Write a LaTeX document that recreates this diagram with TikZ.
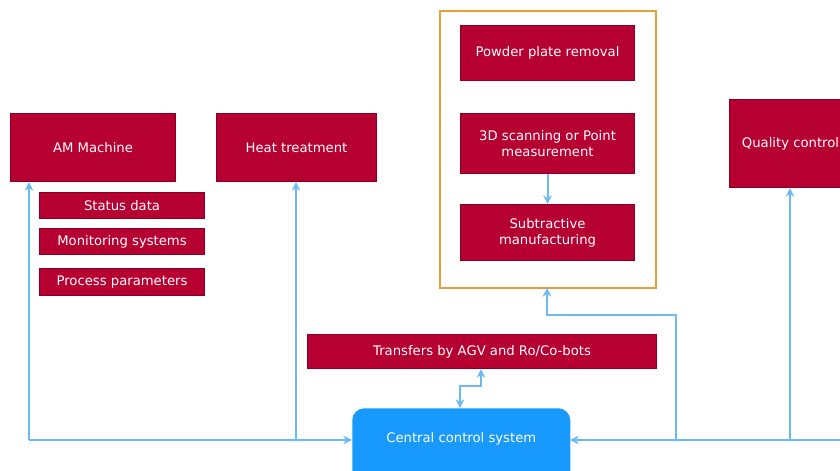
\documentclass[tikz,border=0pt]{standalone}
\usepackage{fontspec}
\setmainfont{DejaVu Sans}
\usetikzlibrary{arrows.meta}
\definecolor{boxred}{HTML}{B70032}
\definecolor{boxedge}{HTML}{8A0025}
\definecolor{ctrlblue}{HTML}{1799FD}
\definecolor{linkblue}{HTML}{6CBAF3}
\definecolor{frameorange}{HTML}{E5A03A}
\begin{document}
\begin{tikzpicture}[x=0.75pt,y=-0.75pt,
  redbox/.style={draw=boxedge,line width=0.8pt,fill=boxred,text=white,align=center,font=\fontsize{9.9}{12}\selectfont,inner sep=0pt},
  link/.style={draw=linkblue,line width=1.5pt,-{Stealth[length=6.5pt,width=6.5pt]}},
  plain/.style={draw=linkblue,line width=1.5pt}]
\useasboundingbox (0,0) rectangle (840,471);
% orange frame
\draw[frameorange,line width=1.2pt] (440,11) rectangle (656,288);
\coordinate (frameS) at (547,288);
% red boxes
\node[redbox,minimum width=165*0.75pt,minimum height=68*0.75pt,anchor=north west] (am) at (10,113) {AM Machine};
\node[redbox,minimum width=160*0.75pt,minimum height=68*0.75pt,anchor=north west] (heat) at (216,113) {Heat treatment};
\node[redbox,minimum width=165*0.75pt,minimum height=26*0.75pt,anchor=north west] (status) at (39,192) {Status data};
\node[redbox,minimum width=165*0.75pt,minimum height=26*0.75pt,anchor=north west] (monitor) at (39,228) {Monitoring systems};
\node[redbox,minimum width=165*0.75pt,minimum height=27*0.75pt,anchor=north west] (process) at (39,268) {Process parameters};
\node[redbox,minimum width=174*0.75pt,minimum height=55*0.75pt,anchor=north west] (powder) at (460,25) {Powder plate removal};
\node[redbox,minimum width=174*0.75pt,minimum height=60*0.75pt,anchor=north west] (scan) at (460,113) {3D scanning or Point\\measurement};
\node[redbox,minimum width=174*0.75pt,minimum height=56*0.75pt,anchor=north west] (sub) at (460,204) {Subtractive\\manufacturing};
\node[redbox,minimum width=122*0.75pt,minimum height=88*0.75pt,anchor=north west] (quality) at (729,99) {\raisebox{2pt}{Quality control}};
\node[redbox,minimum width=349*0.75pt,minimum height=34*0.75pt,anchor=north west] (agv) at (307,334) {Transfers by AGV and Ro/Co-bots};
% central control
\node[fill=ctrlblue,rounded corners=9pt,text=white,font=\fontsize{9.9}{12}\selectfont,minimum width=218*0.75pt,minimum height=80*0.75pt,anchor=north west,inner sep=0pt] (central) at (352,408) {\raisebox{16.5pt}{Central control system}};
% coordinates for routes
\coordinate (cw) at (352,440);
\coordinate (ce) at (570,440);
\coordinate (hj) at (296,440);
% AM machine link
\draw[link] (29,440) -- (am.south -| 29,0);
\draw[plain] (29,440) -- (hj);
\draw[link] (hj) -- (cw);
% heat treatment link
\draw[link] (hj) -- (hj |- heat.south);
% quality link
\draw[link] (790,440) -- (quality.south -| 790,0);
\draw[plain] (840,440) -- (676,440);
% frame link
\draw[link] (676,440) -- (676,315) -- (547,315) -- (frameS);
\draw[link] (676,440) -- (ce);
% agv link
\draw[link] (460,398) -- (460,386) -- (481,386) -- (agv.south -| 481,0);
\draw[link] (460,390) -- (central.north -| 460,0);
% scan to sub
\draw[link] (scan.south) -- (sub.north);
\end{tikzpicture}
\end{document}
